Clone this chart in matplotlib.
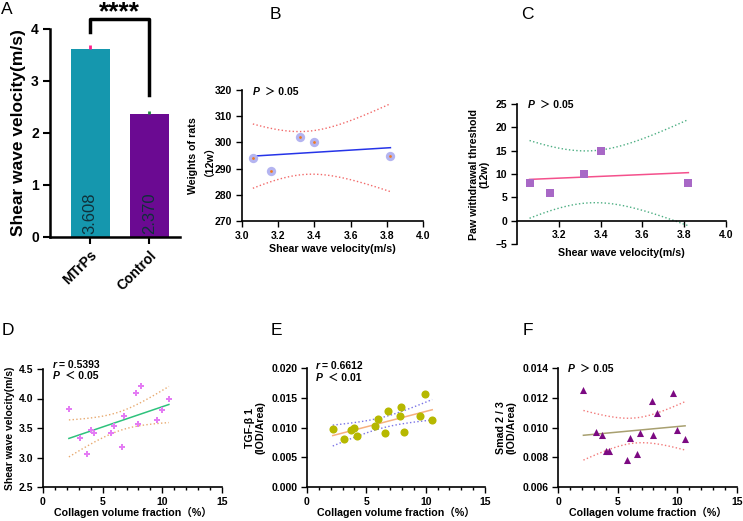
import numpy as np
import matplotlib
matplotlib.use('Agg')
import matplotlib.pyplot as plt
from matplotlib.ticker import MultipleLocator, FormatStrFormatter

plt.rcParams['font.family'] = ['Liberation Sans', 'Noto Sans CJK SC']
plt.rcParams['font.weight'] = 'bold'
plt.rcParams['axes.labelweight'] = 'bold'

# ---- data ----
groups = ['MTrPs', 'Control']
swv_mean = [3.608, 2.370]
swv_err = [0.09, 0.05]

swv_rats = [3.06, 3.16, 3.32, 3.40, 3.82]
weights = [294, 289, 302, 300, 295]
paw = [8, 6, 10, 15, 8]

cvf = [2.17, 3.14, 3.67, 4.0, 4.25, 5.72, 5.98, 6.59, 6.82, 7.82, 7.94, 8.2, 9.56, 9.95, 10.55]
swv_cvf = [3.82, 3.33, 3.06, 3.47, 3.41, 3.42, 3.53, 3.17, 3.71, 4.09, 3.57, 4.21, 3.64, 3.81, 3.99]
tgf = [0.0098, 0.0081, 0.0095, 0.0100, 0.0086, 0.0102, 0.0114, 0.0090, 0.0127, 0.0120,
       0.0135, 0.0092, 0.0119, 0.0156, 0.0112]
smad_x = [2.13, 3.15, 3.68, 4.04, 4.27, 5.76, 6.01, 6.6, 6.85, 7.87, 8.0, 8.29, 9.63, 10.0, 10.65]
smad = [0.0125, 0.0097, 0.0095, 0.0084, 0.0084, 0.0078, 0.0093, 0.0082, 0.0096, 0.0118,
        0.0095, 0.0110, 0.0123, 0.0098, 0.0092]

W, H = 743, 521
fig = plt.figure(figsize=(W / 100, H / 100), dpi=100)


def box(l, t, r, b):
    return fig.add_axes([l / W, 1 - b / H, (r - l) / W, (b - t) / H])


def style(ax, fs=7.5):
    for s in ['top', 'right']:
        ax.spines[s].set_visible(False)
    for s in ['left', 'bottom']:
        ax.spines[s].set_linewidth(1.2)
    ax.tick_params(labelsize=fs, width=1, length=4, direction='out', pad=3)
    ax.tick_params(which='minor', width=1, length=2.5)
    for lab in ax.get_xticklabels() + ax.get_yticklabels():
        lab.set_fontweight('bold')


def fit_band(ax, x, y, tval, lc, bc):
    x = np.asarray(x)
    y = np.asarray(y)
    n = len(x)
    b, a = np.polyfit(x, y, 1)
    s = np.sqrt(np.sum((y - (a + b * x)) ** 2) / (n - 2))
    sxx = np.sum((x - x.mean()) ** 2)
    xs = np.linspace(x.min(), x.max(), 100)
    yh = a + b * xs
    se = s * np.sqrt(1 / n + (xs - x.mean()) ** 2 / sxx)
    ax.plot(xs, yh, color=lc, lw=1.1, zorder=2)
    ax.plot(xs, yh + tval * se, color=bc, lw=1, ls=':', zorder=2)
    ax.plot(xs, yh - tval * se, color=bc, lw=1, ls=':', zorder=2)


def ftext(x, y, s, **kw):
    fig.text(x / W, 1 - y / H, s, **kw)


def stat(x, y, letter, rest, off=12):
    ftext(x, y, letter, fontsize=7.5, style='italic', va='center')
    ftext(x + off, y, rest, fontsize=7.5, va='center')


# ---- A: bars ----
axA = box(50, 29, 180, 237)
xpos = np.arange(len(groups))
axA.bar(xpos, swv_mean, width=0.66, color=['#1597ae', '#6b0a92'], zorder=2)
axA.errorbar(xpos[0], swv_mean[0], yerr=[[0], [swv_err[0]]], fmt='none', ecolor='#ff1f8a', elinewidth=2, capsize=0)
axA.errorbar(xpos[1], swv_mean[1], yerr=[[0], [swv_err[1]]], fmt='none', ecolor='#1e8a3c', elinewidth=2, capsize=0)
for xi, v in zip(xpos, swv_mean):
    axA.text(xi, 0.06, f'{v:.3f}', rotation=90, ha='center', va='bottom', fontsize=12,
             fontweight='normal', color='#10303a')
axA.set_xlim(-0.68, 1.52)
axA.set_ylim(0, 4)
axA.set_yticks([0, 1, 2, 3, 4])
axA.set_xticks(xpos)
axA.set_xticklabels(groups)
style(axA, fs=10)
for s in ['left', 'bottom']:
    axA.spines[s].set_linewidth(1.8)
axA.tick_params(width=1.5, length=5)
for lab in axA.get_xticklabels():
    lab.set_rotation(45)
    lab.set_ha('right')
    lab.set_rotation_mode('anchor')
    lab.set_fontsize(10)
axA.set_ylabel('Shear wave velocity(m/s)', fontsize=12.5, labelpad=4)
axA.plot([0, 0, 1, 1], [3.94, 4.19, 4.19, 2.73], color='black', lw=2.5, clip_on=False)
ftext(119.5, 0, '****', ha='center', va='top', fontsize=19)

# ---- B ----
axB = box(242, 90, 423, 221)
fit_band(axB, swv_rats, weights, 3.182, '#2634e8', '#f26a6a')
axB.scatter(swv_rats, weights, s=45, color='#b4b4f0', zorder=3, linewidths=0)
axB.scatter(swv_rats, weights, s=4, color='#f07a20', zorder=4, linewidths=0)
axB.set_xlim(3.0, 4.0)
axB.set_ylim(270, 320)
axB.set_xticks(np.arange(3.0, 4.01, 0.2))
axB.xaxis.set_major_formatter(FormatStrFormatter('%.1f'))
axB.set_yticks(np.arange(270, 321, 10))
style(axB)
axB.set_xlabel('Shear wave velocity(m/s)', fontsize=7.7)
axB.xaxis.set_label_coords(0.5, -0.175)
axB.set_ylabel('Weights of rats\n（12w）', fontsize=7.7, labelpad=4, linespacing=1.1)

# ---- C ----
axC = box(517, 104, 726, 244)
fit_band(axC, swv_rats, paw, 3.182, '#f4508c', '#4cae82')
axC.scatter(swv_rats, paw, s=30, marker='s', color='#a868c6', zorder=3, linewidths=0)
axC.set_xlim(3.0, 4.0)
axC.set_ylim(-5, 25)
axC.set_xticks(np.arange(3.2, 4.01, 0.2))
axC.xaxis.set_major_formatter(FormatStrFormatter('%.1f'))
axC.set_yticks(np.arange(-5, 26, 5))
style(axC)
axC.spines['bottom'].set_position(('data', 0))
axC.set_xlabel('Shear wave velocity(m/s)', fontsize=7.7)
axC.xaxis.set_label_coords(0.5, -0.025)
axC.set_ylabel('Paw withdrawal threshold\n(12w)', fontsize=7.7, labelpad=4, linespacing=1.1)

# ---- D ----
axD = box(43, 369, 222, 487)
fit_band(axD, cvf, swv_cvf, 2.160, '#2ec27c', '#e8aa70')
axD.scatter(cvf, swv_cvf, s=16, marker='P', color='#e47cf4', zorder=3, linewidths=0)
axD.set_xlim(0, 15)
axD.set_ylim(2.5, 4.5)
axD.set_xticks([0, 5, 10, 15])
axD.xaxis.set_minor_locator(MultipleLocator(1))
axD.set_yticks(np.arange(2.5, 4.51, 0.5))
axD.yaxis.set_major_formatter(FormatStrFormatter('%.1f'))
style(axD)
axD.set_xlabel('Collagen volume fraction（%）', fontsize=7.7)
axD.xaxis.set_label_coords(0.5, -0.17)
axD.set_ylabel('Shear wave velocity(m/s)', fontsize=7.5, labelpad=3)

# ---- E ----
axE = box(307, 368, 485, 487)
fit_band(axE, cvf, tgf, 2.160, '#f6b07e', '#7a74e6')
axE.scatter(cvf, tgf, s=34, color='#b6b800', zorder=3, linewidths=0)
axE.set_xlim(0, 15)
axE.set_ylim(0, 0.02)
axE.set_xticks([0, 5, 10, 15])
axE.xaxis.set_minor_locator(MultipleLocator(1))
axE.set_yticks(np.arange(0, 0.0201, 0.005))
axE.yaxis.set_major_formatter(FormatStrFormatter('%.3f'))
style(axE)
axE.set_xlabel('Collagen volume fraction（%）', fontsize=7.7)
axE.xaxis.set_label_coords(0.5, -0.17)
axE.set_ylabel('TGF-β 1\n(IOD/Area)', fontsize=7.7, labelpad=4, linespacing=1.1)

# ---- F ----
axF = box(558, 368, 737, 487)
fit_band(axF, smad_x, smad, 2.160, '#a8a070', '#f27a7a')
axF.scatter(smad_x, smad, s=26, marker='^', color='#7c0a82', zorder=3, linewidths=0)
axF.set_xlim(0, 15)
axF.set_ylim(0.006, 0.014)
axF.set_xticks([0, 5, 10, 15])
axF.xaxis.set_minor_locator(MultipleLocator(1))
axF.set_yticks(np.arange(0.006, 0.01401, 0.002))
axF.yaxis.set_major_formatter(FormatStrFormatter('%.3f'))
style(axF)
axF.set_xlabel('Collagen volume fraction（%）', fontsize=7.7)
axF.xaxis.set_label_coords(0.5, -0.17)
axF.set_ylabel('Smad 2 / 3\n(IOD/Area)', fontsize=7.7, labelpad=4, linespacing=1.1)

# ---- stats text ----
stat(253, 92, 'P', '＞ 0.05')
stat(528, 105, 'P', '＞ 0.05')
stat(53, 365, 'r', '= 0.5393', off=6)
stat(53, 376, 'P', '＜ 0.05')
stat(316, 366, 'r', '= 0.6612', off=6)
stat(316, 378, 'P', '＜ 0.01')
stat(568, 369, 'P', '＞ 0.05')

# ---- panel letters ----
for lab, x, y in [('A', 1, 2), ('B', 270, 7), ('C', 521, 7),
                  ('D', 2, 323), ('E', 271, 323), ('F', 523, 323)]:
    ftext(x, y, lab, fontsize=12.5, fontweight='normal', va='top', ha='left')

fig.savefig('out.png', dpi=100)
